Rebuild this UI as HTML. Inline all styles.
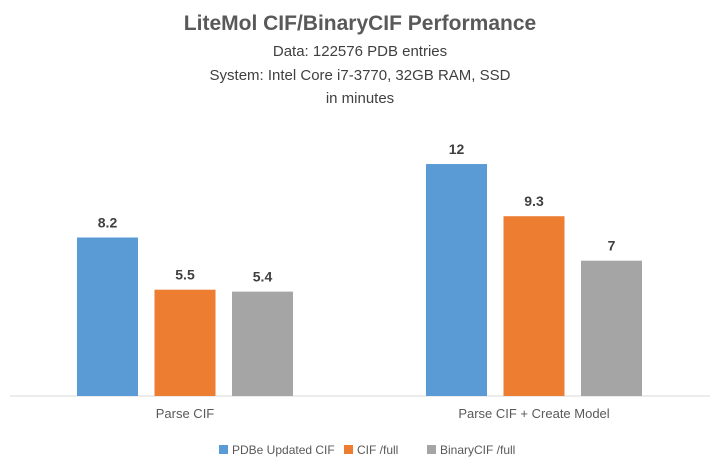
<!DOCTYPE html>
<html><head><meta charset="utf-8"><style>
body{margin:0;background:#fff;}
svg text{font-family:"Liberation Sans",sans-serif;}
</style></head><body>
<svg id="chart" width="720" height="464">
<text x="360" y="30" text-anchor="middle" font-size="21" font-weight="bold" fill="#595959">LiteMol CIF/BinaryCIF Performance</text>
<text x="360" y="56" text-anchor="middle" font-size="15" fill="#404040">Data: 122576 PDB entries</text>
<text x="360" y="80" text-anchor="middle" font-size="15" fill="#404040">System: Intel Core i7-3770, 32GB RAM, SSD</text>
<text x="360" y="103" text-anchor="middle" font-size="15" fill="#404040">in minutes</text>
<line x1="10" y1="396" x2="710" y2="396" stroke="#d9d9d9" stroke-width="1"/>
<g id="bars"></g>
</svg>
<script>
const categories=["Parse CIF","Parse CIF + Create Model"];
const seriesNames=["PDBe Updated CIF","CIF /full","BinaryCIF /full"];
const pdbeValues=[8.2,12];
const cifValues=[5.5,9.3];
const bcifValues=[5.4,7];
const colors=["#5b9bd5","#ed7d31","#a5a5a5"];
const series=[pdbeValues,cifValues,bcifValues];
const base=396, pxPerUnit=19.33;
function y(v){return base-v*pxPerUnit;}
const groupCenters=[185,534];
function barX(gi,si){return groupCenters[gi]-108+si*77.5;}
const ns="http://www.w3.org/2000/svg";
const g=document.getElementById("bars");
const svg=document.getElementById("chart");
categories.forEach((c,gi)=>{
  series.forEach((s,si)=>{
    const r=document.createElementNS(ns,"rect");
    r.setAttribute("x",barX(gi,si));r.setAttribute("y",y(s[gi]));
    r.setAttribute("width",61);r.setAttribute("height",base-y(s[gi]));
    r.setAttribute("fill",colors[si]);
    
    
    g.appendChild(r);
    const t=document.createElementNS(ns,"text");
    t.setAttribute("x",barX(gi,si)+30.5);t.setAttribute("y",y(s[gi])-10);
    t.setAttribute("text-anchor","middle");t.setAttribute("font-size","14");
    t.setAttribute("font-weight","bold");t.setAttribute("fill","#404040");
    t.textContent=String(s[gi]);
    
    
    g.appendChild(t);
  });
  const l=document.createElementNS(ns,"text");
  l.setAttribute("x",groupCenters[gi]);l.setAttribute("y",418);
  l.setAttribute("text-anchor","middle");l.setAttribute("font-size","13");l.setAttribute("fill","#595959");
  l.textContent=c;
  
  
  svg.appendChild(l);
});
const legendX=[219,344,427];
seriesNames.forEach((n,i)=>{
  const r=document.createElementNS(ns,"rect");
  r.setAttribute("x",legendX[i]);r.setAttribute("y",445);r.setAttribute("width",9);r.setAttribute("height",9);
  r.setAttribute("fill",colors[i]);
  
  
  svg.appendChild(r);
  const t=document.createElementNS(ns,"text");
  t.setAttribute("x",legendX[i]+13);t.setAttribute("y",454);t.setAttribute("font-size","12");t.setAttribute("fill","#595959");
  t.textContent=n;
  
  
  svg.appendChild(t);
});
</script>
</body></html>
